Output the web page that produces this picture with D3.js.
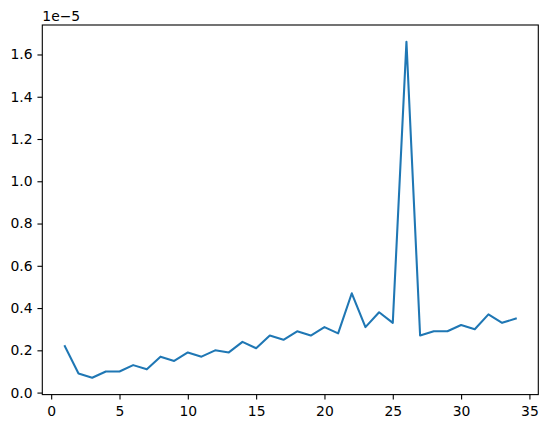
<!DOCTYPE html>
<html>
<head>
<meta charset="utf-8">
<script src="https://cdn.jsdelivr.net/npm/d3@7"></script>
<style>
  body { margin: 0; background: #fff; }
  text { font-family: "DejaVu Sans", sans-serif; }
</style>
</head>
<body>
<div id="vis"></div>
<script>
var steps = [1, 2, 3, 4, 5, 6, 7, 8, 9, 10, 11, 12, 13, 14, 15, 16, 17,
             18, 19, 20, 21, 22, 23, 24, 25, 26, 27, 28, 29, 30, 31, 32, 33, 34];
var values = [2.2e-6, 0.9e-6, 0.7e-6, 1.0e-6, 1.0e-6, 1.3e-6, 1.1e-6, 1.7e-6, 1.5e-6, 1.9e-6,
              1.7e-6, 2.0e-6, 1.9e-6, 2.4e-6, 2.1e-6, 2.7e-6, 2.5e-6, 2.9e-6, 2.7e-6, 3.1e-6,
              2.8e-6, 4.7e-6, 3.1e-6, 3.8e-6, 3.3e-6, 16.6e-6, 2.7e-6, 2.9e-6, 2.9e-6, 3.2e-6,
              3.0e-6, 3.7e-6, 3.3e-6, 3.5e-6];
var xTicks = [0, 5, 10, 15, 20, 25, 30, 35];
var yTicks = [0, 0.2e-5, 0.4e-5, 0.6e-5, 0.8e-5, 1.0e-5, 1.2e-5, 1.4e-5, 1.6e-5];
var offsetLabel = "1e\u22125";

var W = 547, H = 428;
// note: "top" is a reserved window global, so use pl/pr/pt/pb
var pl = 42.3, pr = 538.3, pt = 25, pb = 394.6;
var fs = "13.9px", tick = 4.86, pad = 4.86;

var svg = d3.select("div#vis").append("svg")
  .attr("width", W)
  .attr("height", H);

// matplotlib style 5% margins
var xr = d3.extent(steps), yr = d3.extent(values);
var xm = (xr[1] - xr[0]) * 0.05, ym = (yr[1] - yr[0]) * 0.05;

var x = d3.scaleLinear().domain([xr[0] - xm, xr[1] + xm]).range([pl, pr]);
var y = d3.scaleLinear().domain([yr[0] - ym, yr[1] + ym]).range([pb, pt]);

var xAxis = svg.append("g")
  .attr("transform", "translate(0," + pb + ")")
  .call(d3.axisBottom(x).tickValues(xTicks).tickSize(tick).tickPadding(pad)
    .tickFormat(d3.format("d")));

var yAxis = svg.append("g")
  .attr("transform", "translate(" + pl + ",0)")
  .call(d3.axisLeft(y).tickValues(yTicks).tickSize(tick).tickPadding(pad)
    .tickFormat(function(d) { return (d / 1e-5).toFixed(1); }));

[xAxis, yAxis].forEach(function(g) {
  g.select(".domain").remove();
  g.selectAll("line").attr("stroke", "#000").attr("stroke-width", 1.1);
  g.selectAll("text").attr("fill", "#000").style("font-size", fs)
    .attr("font-family", "DejaVu Sans");
});
xAxis.selectAll("text").attr("dy", "0.82em");

// line
var line = d3.line()
  .x(function(d, i) { return x(steps[i]); })
  .y(function(d) { return y(d); });

svg.append("path")
  .datum(values)
  .attr("d", line)
  .attr("fill", "none")
  .attr("stroke", "#1f77b4")
  .attr("stroke-width", 2.08)
  .attr("stroke-linejoin", "round")
  .attr("stroke-linecap", "square");

// frame
svg.append("rect")
  .attr("x", pl).attr("y", pt)
  .attr("width", pr - pl).attr("height", pb - pt)
  .attr("fill", "none")
  .attr("stroke", "#000")
  .attr("stroke-width", 1.1);

// offset text
svg.append("text")
  .attr("x", pl)
  .attr("y", pt - 4)
  .style("font-size", fs)
  .attr("fill", "#000")
  .text(offsetLabel);
</script>
</body>
</html>
